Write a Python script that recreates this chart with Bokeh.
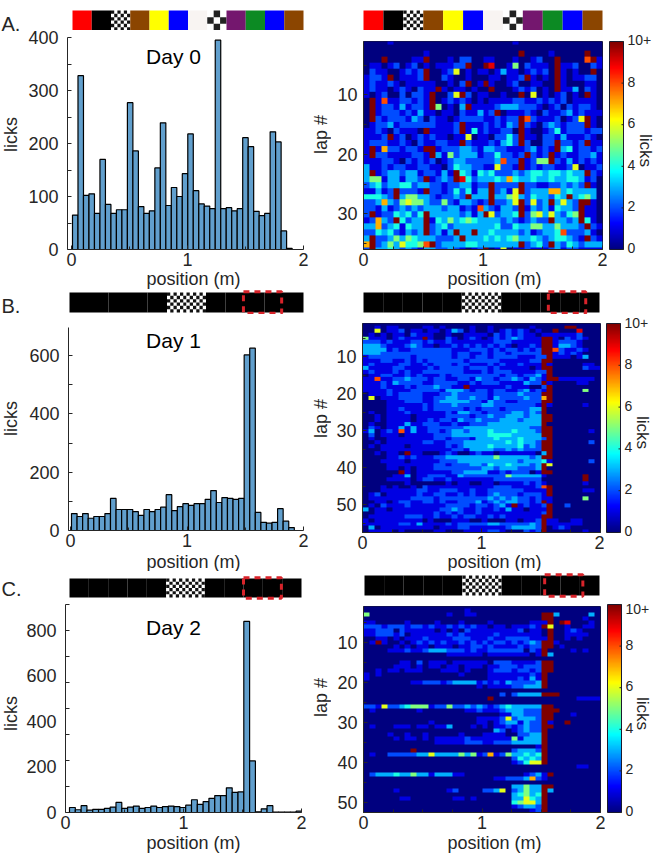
import numpy as np
from bokeh.plotting import figure
from bokeh.layouts import row, column
from bokeh.models import Range1d, LinearAxis, FixedTicker, LinearColorMapper, Label
from bokeh.embed import file_html
from bokeh.resources import INLINE

# ---------- data ----------
HIST_A = [65,328,102,105,68,170,85,68,75,75,277,186,81,68,73,154,239,83,117,100,143,218,111,86,82,77,395,77,79,73,77,211,194,72,64,68,222,203,35,2]
HIST_B = [58,48,58,42,48,48,58,110,72,72,72,65,52,72,65,72,80,123,68,82,92,86,92,92,107,137,96,113,110,107,110,602,625,62,28,25,28,75,32,10]
HIST_C = [22,12,30,10,14,14,18,24,44,18,24,28,18,22,28,22,26,28,26,22,32,56,36,48,62,74,74,108,88,90,838,226,3,16,30,2,2,2,2,6,2]

HEAT_A = """
0000100000 0000000000 0000010000 0000000000
0000000000 0000000000 0000000000 0000000000
0000000000 1000000000 000000X000 0100000X00
000X000011 X000102200 1100010012 00X00008X1
0110120120 1011122X00 X900150211 10X1120021
0211001212 X001260101 1013110121 20X10100X0
1221X01112 X002100100 0110112X10 10X1011220
1211210111 1100102X01 X100120011 00X1000110
1211012102 11X1011010 0X00012120 10X1130210
1012002022 1X0026X201 100100X060 1012010X10
0X18112212 1X01212101 0111122112 1212011110
0X12213122 1X50103X11 1123332221 0120212210
0X12221213 1101102113 12X0111210 2112312111
0X21222132 0211012222 112122X821 1120126X10
0122312222 221112X111 212132X210 2321222X10
1121021110 X11112X141 211220X100 1241222122
1112X12012 1211011601 102242X110 2213111210
1222112102 112211X211 121342X200 22X2212X11
1X17221221 XX12223321 3322111231 21X3412212
1X22111122 1X31523331 2242212X21 2X12112231
1112210212 1201233222 223822X125 5X21312121
3112122112 2110243322 116221X121 2211260112
3X12332331 22131X4314 3422232344 3443433X21
3551331332 X1232X9423 3343743343 3433443120
2342334423 3221223312 2X2222X221 1223232X10
11312X2221 X221242413 3X2316X233 3773433330
44432X3553 3212232X33 3X33563243 3243X34530
2237325655 3225213321 2X2236X262 3X3632XX10
2213123232 3332331218 321332X132 314332X110
2X12243424 X333332313 X62334X256 363245X110
12732X4233 X143534543 3332321232 2X3323X410
3372341433 X234233333 3342243355 3353332X21
2243421323 X2313X33X3 3433332312 3348222310
3X22353543 332223X333 4343453343 2344321X21
7X23536445 8X23333443 333333X234 2X32432333
2X33432321 3322321012 X016011211 1231221111
"""

HEAT_B = """
0000000000 0000000000 0000000000 0000000000
0010110000 1101000010 0100000010 0000XX0000
0060112011 0110132010 0101212101 00X0009000
0101011021 1100100111 1021212110 1111112000
5111012111 X100210121 0121232111 XX10212100
2221211122 1211211111 1122211111 XX12221000
3332111232 1101121212 1212101121 XX13321000
3333121122 2222211122 2121221212 XX82112100
3332222222 2222212211 2122122222 XX12121000
1222222212 2222212212 2122221112 2X11101300
1112211212 1222222122 2221111122 XX00000000
1211112211 2122212211 1212112111 X100000110
3111122111 1212222122 2121111101 XX00000211
1211121211 2222222111 2122211112 2X00000000
0112211212 1112122222 2221221223 1X00000000
1181122322 2122112213 2212232132 1XX1111110
1112132222 1122221121 2221111322 X100001100
1112111212 2232211X11 1111211100 2X00000000
1111211122 2221333212 2122112312 1X00000500
0111212222 1112232222 2122223222 XX00000000
0601112222 1122332232 2132222322 7X00000000
0000111222 1123333322 1322112222 XX00000000
0000111111 2122232222 3322222221 X100000100
0000112111 2122222121 2221222233 X000000000
0100111211 1111213322 1222233232 X000000000
0010111101 1111222212 2322333233 XX00000000
0010111101 1212213223 2223332333 XX00000000
0100111311 2221121122 2333333333 X000000000
0210113131 1222222333 3333333322 XX00000000
1301218131 1221233233 3433343332 XX00000010
0201110111 1122233333 3444433333 XX00000000
0100111111 1122122213 3343334333 2X00000000
0010111111 2211222333 3333434332 XX00000020
0101111011 1111212333 3433334232 XX00000000
0001111111 1111122133 3322323222 XX00000000
0010110X11 0001210012 1101111110 3X00000000
0000112121 1122333333 3353333323 XX00000000
0001111011 1112223333 3333332333 4100000020
0000111111 1122122233 2433433323 X600000000
0000110101 1122222222 3323332223 X000000000
000000X101 1111122333 3112122201 XX00000000
0000011301 1222113222 2222533333 1000000X00
0000111101 2211211111 1122222222 0000000X00
0000000100 0000101100 1101111212 1000000100
0001010010 2111111111 1122211112 8X00000000
0001111112 2112221121 1222222111 1X00000110
0120111112 1122112121 1232221222 1X00000000
0111111122 2212222222 2323232212 1100000500
0011012211 2212112223 1232332212 X100000000
0102111211 1111222212 21231X1211 2X00200000
3011011111 1112232112 1121311011 1X00000000
0011111111 1121212112 1111111111 2X00000000
0111111222 1121121221 1212111111 XX00000000
1011111111 0100011100 1000110112 X110011000
1111112213 1111212222 2332222232 X111111000
0301111111 1101112211 1111233332 X012100000
0111101000 0011000111 1221000212 X000000100
"""

HEAT_C = """
0000000000 0000000000 0000000000 0000000000
0000000000 0000000100 0000000000 0000000000
5000000000 0000100110 0000000000 XX30000030
0000000000 0000000000 0000000000 XX00000100
1100000100 0010001000 0100000011 1X0X900010
2221222122 1211212121 1011011121 X600100110
1122202111 1101010211 1111112011 0X00121000
1122212011 1111212111 1121111111 0X00111100
0011010111 2111122211 1211222211 1X00101000
01X1001012 1212112121 2122121232 XX10000000
0000010101 1011101122 1211112122 XX01000000
0000111211 2333222121 1222222021 X000010100
0000000000 0000111111 0111111101 X300000000
0000000000 0000000000 0000000000 0000000000
0000001102 0111011111 1022211112 XX00000000
0000011101 0110110111 0112221222 XX00000000
0010110111 0001110100 0122212212 XX00000000
1010000000 0000001000 0111111121 X000000000
1000000000 0000000000 0111112131 X000000000
0000000011 2221233331 2121322223 X000000000
0000000000 0000000001 0111122333 X000000000
0000000000 0000000000 0000000000 0000000000
0000000000 0000000000 0002023333 XXX0000000
0000000000 0000000000 0X00000000 0000001111
0000000000 0000000000 0000000000 0000000000
2216223455 5122522323 2123433333 XX00000000
0100000001 0000000112 1112333222 XXX0000000
0000000000 0000000000 0001133222 XX00010000
0000000000 0000000001 1112623332 XX00000000
0000000000 0100000001 1012331322 X100X00000
0100011101 1011300010 1011212322 XX00000000
0000000000 0000000000 0032012322 X000000000
0000100100 1000001000 1111002233 X000000000
0000010110 1011111211 1111151333 X000000000
0000000000 0011111222 1122233333 X000000000
0000000000 0000000000 0000000001 X000000000
00000000X0 0000000000 0000023332 X000000000
0100222223 3633335351 2712533434 X000000000
0000000000 0000000000 0000024343 X000000000
0000000000 0000000000 0000012466 X000000000
0000000000 0000000000 0000000000 0000001100
0000000000 0000000000 0000000000 0000000000
0233343353 3133311000 0000000123 1X00000000
0000000000 0000000000 0011222372 1000000000
0000000000 0000000000 0000000000 0000000000
0000000000 0000000000 0000033533 XX00000000
0000010000 0000120000 2236023533 X300000000
0000000000 0000000000 0000034534 X000000000
0000001100 0000011010 0000033643 X000000000
0000000000 0000000000 0000045663 X000000000
0000000000 0000000000 0000012332 X000000000
0000000000 0000000000 0000000012 X000000000
"""

STRIP_A = ["#FF0000", "#000000", "fine", "#8B4500", "#FFFF00", "#0000FF", "#F8F4F2", "coarse", "#74176E", "#0C8A23", "#0000FF", "#8B4500"]
STRIP_D = ["#000000"] * 5 + ["fine", "fine"] + ["#000000"] * 5
CBAR_TICKS = [0, 2, 4, 6, 8, 10]
CBAR_LABELS = ["0", "2", "4", "6", "8", "10+"]

TICK_COL = "#262626"
FONT = "Liberation Sans"
BAR_COL = "#619FCD"


def parse(text):
    rows = [r.replace(" ", "") for r in text.strip().splitlines()]
    return np.array([[10.0 if ch == "X" else float(ch) for ch in r.ljust(40, "0")[:40]] for r in rows])


def jet(n=256):
    out = []
    for t in np.linspace(0, 1, n):
        r = np.clip(min(4 * t - 1.5, -4 * t + 4.5), 0, 1)
        g = np.clip(min(4 * t - 0.5, -4 * t + 3.5), 0, 1)
        b = np.clip(min(4 * t + 0.5, -4 * t + 2.5), 0, 1)
        out.append("#%02x%02x%02x" % (int(r * 255), int(g * 255), int(b * 255)))
    return out


JET = jet()


class Frame:
    """A figure whose plotting frame sits at given page pixels."""

    def __init__(self, band, frame, xr, yr):
        bl, br, bt, bb = band
        fl, fr, ft, fb = frame
        self.frame, self.xr, self.yr = frame, xr, yr
        self.p = figure(
            width=br - bl, height=bb - bt,
            x_range=Range1d(*xr), y_range=Range1d(*yr),
            x_axis_type=None, y_axis_type=None,
            min_border_left=fl - bl, min_border_right=br - fr,
            min_border_top=ft - bt, min_border_bottom=bb - fb,
            frame_align=False,
            output_backend="svg", toolbar_location=None,
        )
        self.p.outline_line_color = None
        self.p.background_fill_color = "white"

    def dx(self, px):
        fl, fr, _, _ = self.frame
        return self.xr[0] + (px - fl) / (fr - fl) * (self.xr[1] - self.xr[0])

    def dy(self, py):
        _, _, ft, fb = self.frame
        return self.yr[0] + (fb - py) / (fb - ft) * (self.yr[1] - self.yr[0])

    def text(self, s, px, py, size, color=TICK_COL, angle=0, align="center"):
        self.p.add_layout(Label(
            x=self.dx(px), y=self.dy(py), text=s, text_font=FONT, text_font_size=f"{size}px",
            text_color=color, text_align=align, text_baseline="middle",
            angle=angle, angle_units="deg",
        ))


def textfig(band, items):
    """A white figure that only holds texts, placed by page pixels."""
    bl, br, bt, bb = band
    f = Frame(band, band, (bl, br), (bb, bt))
    for s, px, py, size, angle, align in items:
        f.text(s, px, py, size, angle=angle, align=align)
    return f.p


def style_axis(ax, ticks, minor, standoff):
    ax.ticker = FixedTicker(ticks=ticks, minor_ticks=minor)
    ax.major_label_text_font = FONT
    ax.major_label_text_font_size = "18px"
    ax.major_label_text_color = TICK_COL
    ax.major_label_standoff = standoff
    ax.axis_line_color = TICK_COL
    ax.major_tick_line_color = TICK_COL
    ax.minor_tick_line_color = TICK_COL
    ax.major_tick_in, ax.major_tick_out = 4, 0
    ax.minor_tick_in, ax.minor_tick_out = 3, 0


def hist(band, frame, xr, yr, values, bar0, barw, yticks, yminor, day, day_y, y_major_in=4):
    f = Frame(band, frame, xr, yr)
    left = np.array([bar0 + i * barw for i in range(len(values))])
    f.p.quad(left=left, right=left + barw, bottom=0, top=values,
             fill_color=BAR_COL, line_color="black", line_width=1.2)
    xa = LinearAxis()
    style_axis(xa, [0, 1, 2], [0.5, 1.5], 3)
    f.p.add_layout(xa, "below")
    ya = LinearAxis()
    style_axis(ya, yticks, yminor, 9)
    ya.major_tick_in = y_major_in
    ya.minor_tick_in = 4
    f.p.add_layout(ya, "left")
    f.text(day, 173, day_y, 21, "black")
    return f.p


def heat(band, frame, ybottom, data):
    f = Frame(band, frame, (0, 2), (ybottom, 1.0))
    mapper = LinearColorMapper(palette=JET, low=0, high=10)
    n = data.shape[0]
    f.p.image(image=[data], x=0, y=0.5, dw=2, dh=n, color_mapper=mapper)
    f.p.outline_line_color = "#1A1A2E"
    xa = LinearAxis()
    style_axis(xa, [0, 1, 2], [0.25, 0.5, 0.75, 1.25, 1.5, 1.75], 3)
    f.p.add_layout(xa, "below")
    ya = LinearAxis()
    ticks = [t for t in (10, 20, 30, 40, 50) if t < ybottom]
    style_axis(ya, ticks, [t for t in range(5, int(ybottom), 5) if t not in ticks], 6)
    f.p.add_layout(ya, "left")
    return f.p


def cbar(band, frame, label_x, label_y):
    bl, br, bt, bb = band
    fl, fr, ft, fb = frame
    ux = fr - fl
    uy = (fb - ft) / 10
    f = Frame(band, band, ((bl - fl) / ux, (br - fl) / ux), ((fb - bb) / uy, (fb - bt) / uy))
    mapper = LinearColorMapper(palette=JET, low=0, high=10)
    grad = np.linspace(0, 10, 256).reshape(-1, 1)
    f.p.image(image=[grad], x=0, y=0, dw=1, dh=10, color_mapper=mapper)
    f.p.quad(left=0, right=1, bottom=0, top=10, fill_color=None, line_color="#1A1A2E", line_width=1)
    f.p.segment(x0=[1 - 2 / ux] * len(CBAR_TICKS), x1=[1] * len(CBAR_TICKS),
                y0=CBAR_TICKS, y1=CBAR_TICKS, line_color=TICK_COL)
    for t, s in zip(CBAR_TICKS, CBAR_LABELS):
        f.text(s, fr + 4, max(fb - t * uy - 1.5, bt + 8), 14, align="left")
    f.text("licks", label_x, label_y, 17, angle=-90)
    return f.p


def strip(band, frame, cells, red=None):
    bl, br, bt, bb = band
    fl, fr, ft, fb = frame
    cw = (fr - fl) / 12
    ch = fb - ft
    f = Frame(band, band, ((bl - fl) / cw, (br - fl) / cw), ((fb - bb) / ch, (fb - bt) / ch))
    for i, c in enumerate(cells):
        if c in ("fine", "coarse"):
            nx, ny = (3, 3) if c == "coarse" else (6, 6)
            f.p.quad(left=i, right=i + 1, bottom=0, top=1, fill_color="white", line_color=None)
            ink = "#222222" if c == "coarse" else "#111111"
            xs, ys = np.meshgrid(np.arange(nx), np.arange(ny))
            m = (xs + ys) % 2 == 1
            f.p.quad(left=i + xs[m] / nx, right=i + (xs[m] + 1) / nx,
                     bottom=ys[m] / ny, top=(ys[m] + 1) / ny, fill_color=ink, line_color=None)
        else:
            f.p.quad(left=i, right=i + 1, bottom=0, top=1, fill_color=c, line_color=None)
    if red is not None:
        f.p.quad(left=red[0], right=red[1], bottom=-0.04, top=1.04, fill_color=None,
                 line_color="#D8232A", line_width=3, line_dash="6 5")
    return f.p


def panel(top, split, bottom, letter, letter_y, licks_y, strips, plots):
    side = textfig((0, 22, top, bottom), [(letter, 1, letter_y, 20, 0, "left"), ("licks", 10, licks_y, 18, 90, "center")])
    return row(side, column(row(*strips), row(*plots), spacing=0))


# ---------- assembling the page ----------
M = 312
rows = []

# panel A
rows.append(panel(0, 30, 269, "A.", 23, 134,
    [strip((22, M, 0, 30), (72, 303, 10, 30), STRIP_A),
     strip((M, 654, 0, 30), (363, 602, 10, 30), STRIP_A)],
    [hist((22, 311, 30, 269), (67, 303, 37, 249), (-4 / 116, 2), (0, 400), HIST_A, 1 / 116, 5.49 / 116,
          [0, 100, 200, 300, 400], [50, 150, 250, 350], "Day 0", 56),
     textfig((311, 331, 30, 269), [("lap #", 320, 134, 18, 90, "center")]),
     heat((331, 607, 30, 269), (363, 602, 41, 249), 36.0, parse(HEAT_A)),
     cbar((607, 654, 30, 269), (609, 623, 41, 249), 645, 150)]))
rows.append(textfig((0, 654, 269, 289), [("position (m)", 193, 278, 18, 0, "center"), ("position (m)", 494, 278, 18, 0, "center")]))

# panel B
rows.append(panel(289, 314, 552, "B.", 305, 418,
    [strip((22, M, 289, 314), (69, 303, 292, 312), STRIP_D, (8.92, 10.88)),
     strip((M, 654, 289, 314), (363, 599, 292, 312), STRIP_D, (9.4, 11.3))],
    [hist((22, 311, 314, 552), (68, 303, 327, 530), (-2 / 116.5, 2), (0, 696), HIST_B, 1 / 116.5, 5.57 / 116.5,
          [0, 200, 400, 600], [100, 300, 500], "Day 1", 340),
     textfig((311, 331, 314, 552), [("lap #", 320, 418, 18, 90, "center")]),
     heat((331, 604, 314, 552), (362, 600, 323, 532), 57.5, parse(HEAT_B)),
     cbar((604, 654, 314, 552), (606, 620, 323, 532), 642, 432)]))
rows.append(textfig((0, 654, 552, 571), [("position (m)", 193, 561, 18, 0, "center"), ("position (m)", 494, 561, 18, 0, "center")]))

# panel C
rows.append(panel(571, 600, 833, "C.", 588, 713,
    [strip((22, M, 571, 600), (69, 301, 578, 597), STRIP_D, (9.0, 10.96)),
     strip((M, 654, 571, 600), (364, 599, 575, 595), STRIP_D, (9.2, 11.15))],
    [hist((22, 311, 600, 833), (65, 301, 604, 812), (0, 2), (0, 912), HIST_C, 4 / 118, 5.81 / 118,
          [0, 200, 400, 600, 800], [114, 228, 342, 456, 570, 684, 798, 912], "Day 2", 627, y_major_in=0),
     textfig((311, 331, 600, 833), [("lap #", 320, 697, 18, 90, "center")]),
     heat((331, 605, 600, 833), (363, 600, 606, 812), 52.5, parse(HEAT_C)),
     cbar((605, 654, 600, 833), (607, 621, 604, 812), 642, 713)]))
rows.append(textfig((0, 654, 833, 862), [("position (m)", 193, 842, 18, 0, "center"), ("position (m)", 494, 842, 18, 0, "center")]))

page = column(*rows, spacing=0)
open("out.html", "w").write(file_html(page, INLINE))
